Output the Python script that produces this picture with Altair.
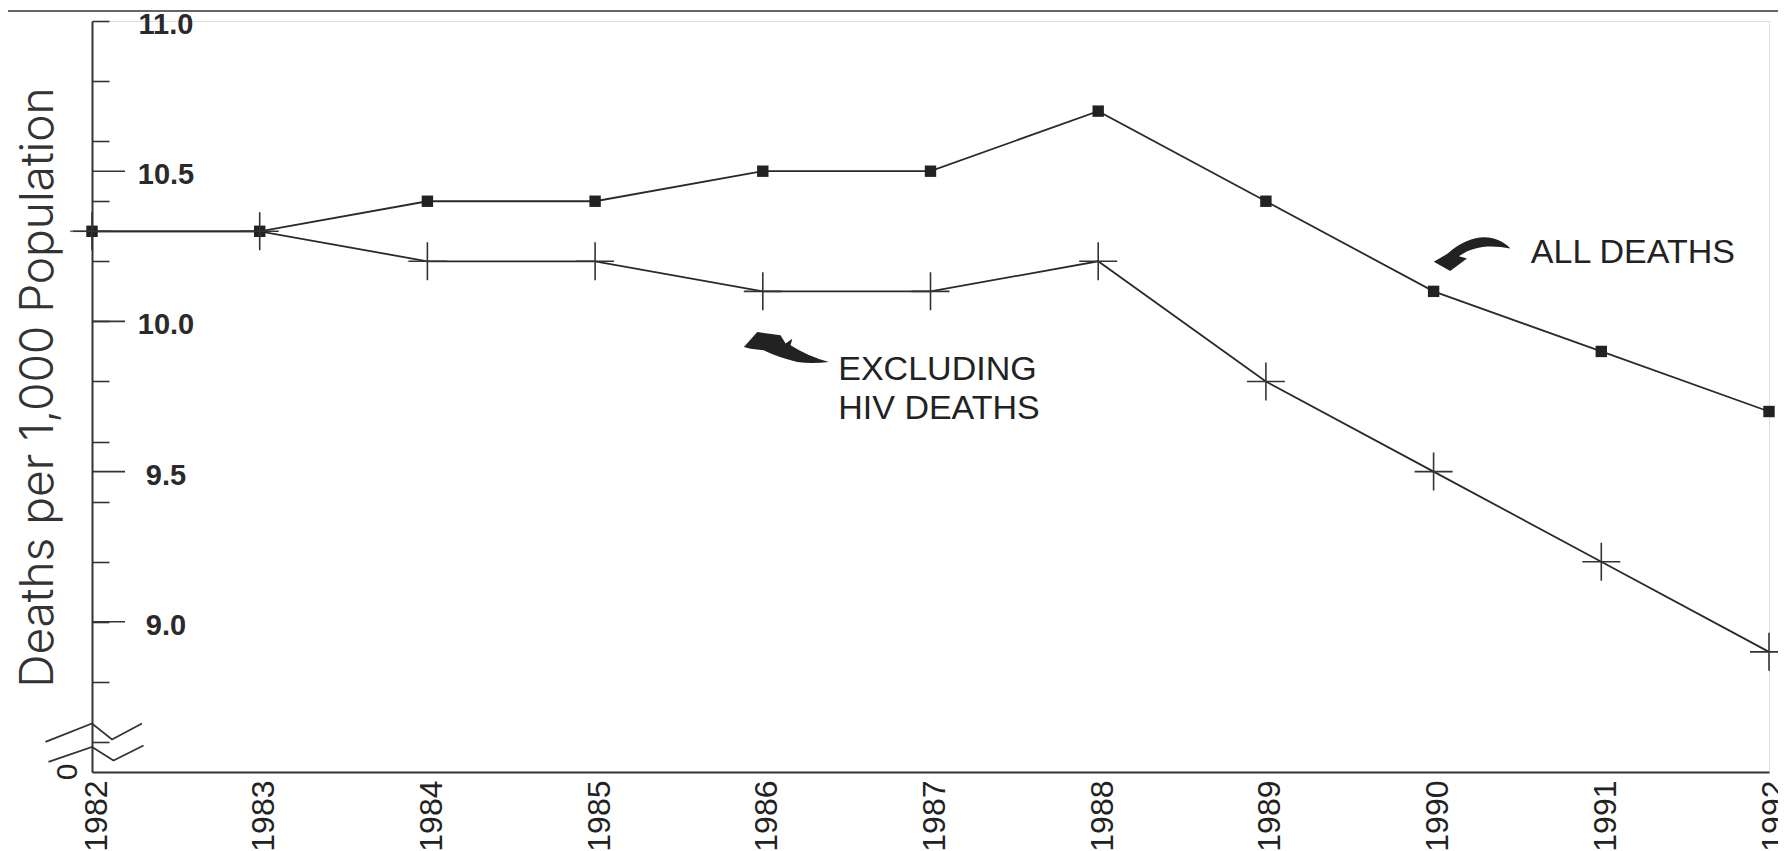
import altair as alt
import pandas as pd

# ---- data ----
years = [1982, 1983, 1984, 1985, 1986, 1987, 1988, 1989, 1990, 1991, 1992]
all_deaths = [10.3, 10.3, 10.4, 10.4, 10.5, 10.5, 10.7, 10.4, 10.1, 9.9, 9.7]
excl_hiv = [10.3, 10.3, 10.2, 10.2, 10.1, 10.1, 10.2, 9.8, 9.5, 9.2, 8.9]

y_minor_ticks = [8.6, 8.7, 8.8, 8.9, 9.0, 9.1, 9.2, 9.3, 9.4, 9.5, 9.6, 9.7, 9.8, 9.9,
                 10.0, 10.1, 10.2, 10.3, 10.4, 10.5, 10.6, 10.7, 10.8, 10.9, 11.0]
y_major_ticks = [9.0, 9.5, 10.0, 10.5]
y_labels = [9.0, 9.5, 10.0, 10.5, 11.0]
y_label_text = ["9.0", "9.5", "10.0", "10.5", "11.0"]
y_domain = [8.5, 11.0]          # bottom of the (broken) axis is labelled "0"
x_domain = [1982, 1992]

ann_text = ["ALL DEATHS", "EXCLUDING\nHIV DEATHS"]
ann_year = [1990.58, 1986.45]
ann_value = [10.227, 9.838]

arrow_name = ["all", "excl"]
arrow_year = [1990.23, 1986.14]
arrow_value = [10.225, 9.912]

break_year = [1982]
break_value = [8.6]

W, H = 1677, 751

# curved arrow outlines (symbol shapes, unit square)
ARROW_ALL = ("M 0.955 -0.135 C 0.6 -0.5 0.0 -0.55 -0.62 0.0 L -0.96 0.2 L -0.55 0.43 "
             "L -0.13 0.12 L -0.33 0.06 C 0.05 -0.22 0.5 -0.22 0.955 -0.135 Z")
ARROW_EXCL = ("M -0.986 -0.02 L -0.674 -0.367 L -0.133 -0.29 L -0.016 -0.098 L 0.14 -0.214 "
              "L 0.1 -0.058 Q 0.5 0.2 0.99 0.33 Q 0.6 0.38 0.256 0.33 Q -0.2 0.22 -0.528 0.058 "
              "L -0.83 0.02 Z")

df = pd.DataFrame({
    "year": years * 2,
    "value": all_deaths + excl_hiv,
    "series": ["ALL DEATHS"] * len(years) + ["EXCLUDING HIV DEATHS"] * len(years),
})
all_df = df[df.series == "ALL DEATHS"]
exc_df = df[df.series == "EXCLUDING HIV DEATHS"]

xs = alt.Scale(domain=x_domain, nice=False, zero=False)
ys = alt.Scale(domain=y_domain, nice=False, zero=False)

x_axis = alt.Axis(
    values=years, format="d", labelAngle=-90, ticks=False, grid=False,
    domainColor="#333", domainWidth=2, labelFont="Liberation Sans",
    labelFontSize=32, labelColor="#222", labelPadding=8, labelOffset=4, title=None,
    labelOverlap=False,
)
y_axis = alt.Axis(
    orient="right", offset=-W, values=y_minor_ticks, grid=False, labels=False,
    tickSize=17, tickColor="#333", tickWidth=1.6,
    domainColor="#333", domainWidth=2,
    title="Deaths per 1,000 Population", titleX=-54, titleY=366, titleAngle=270,
    titleAlign="center", titleBaseline="middle", titleFont="Inter",
    titleFontWeight=300, titleFontSize=46, titleColor="#333",
)

lines = alt.Chart(df).mark_line(color="#2a2a2a", strokeWidth=1.8).encode(
    x=alt.X("year:Q", scale=xs, axis=x_axis),
    y=alt.Y("value:Q", scale=ys, axis=y_axis),
    detail="series:N",
)

squares = alt.Chart(all_df).mark_point(
    shape="square", size=130, filled=True, color="#222", opacity=1
).encode(x=alt.X("year:Q", scale=xs), y=alt.Y("value:Q", scale=ys))

crosses = alt.Chart(exc_df).mark_point(
    shape="M -1 0 L 1 0 M 0 -1 L 0 1", size=1444, filled=False,
    color="#333", strokeWidth=1.6, opacity=1
).encode(x=alt.X("year:Q", scale=xs), y=alt.Y("value:Q", scale=ys))

start_tick = alt.Chart(all_df[all_df.year == years[0]]).mark_tick(
    orient="horizontal", size=22, thickness=1.6, color="#333", xOffset=-11
).encode(x=alt.X("year:Q", scale=xs), y=alt.Y("value:Q", scale=ys))

major_ticks = alt.Chart(pd.DataFrame({"v": y_major_ticks})).mark_rule(
    strokeWidth=1.6, color="#333"
).encode(x=alt.value(0), x2=alt.value(33), y=alt.Y("v:Q", scale=ys))

tick_labels = alt.Chart(pd.DataFrame({"v": y_labels, "t": y_label_text})).mark_text(
    font="Liberation Sans", fontSize=29, fontWeight="bold", color="#2a2a2a",
    align="center", baseline="middle", dy=4
).encode(x=alt.value(74), y=alt.Y("v:Q", scale=ys), text="t:N")

zero_label = alt.Chart(pd.DataFrame({"year": [years[0]], "v": [y_domain[0]], "t": ["0"]})).mark_text(
    font="Liberation Sans", fontSize=30, color="#222", angle=270, dy=-24,
    align="center", baseline="middle"
).encode(x=alt.X("year:Q", scale=xs), y=alt.Y("v:Q", scale=ys), text="t:N")

breaks = alt.Chart(pd.DataFrame({"year": break_year, "v": break_value})).mark_point(
    shape="M -0.93 0 L 0 -0.37 L 0.4 -0.05 L 1 -0.37 M -0.87 0.4 L 0 0.1 L 0.43 0.37 L 1.03 0.07",
    size=10000, filled=False, color="#333", strokeWidth=1.8, opacity=1
).encode(x=alt.X("year:Q", scale=xs), y=alt.Y("v:Q", scale=ys))

ann = alt.Chart(pd.DataFrame({"t": ann_text, "year": ann_year, "v": ann_value})).mark_text(
    font="Liberation Sans", fontSize=34, color="#222", align="left", baseline="middle",
    lineBreak="\n", lineHeight=39
).encode(x=alt.X("year:Q", scale=xs), y=alt.Y("v:Q", scale=ys), text="t:N")

arrow_df = pd.DataFrame({"name": arrow_name, "year": arrow_year, "v": arrow_value})
arrow_all = alt.Chart(arrow_df[arrow_df.name == "all"]).mark_point(
    shape=ARROW_ALL, size=6400, filled=True, color="#222", opacity=1, strokeWidth=0
).encode(x=alt.X("year:Q", scale=xs), y=alt.Y("v:Q", scale=ys))
arrow_excl = alt.Chart(arrow_df[arrow_df.name == "excl"]).mark_point(
    shape=ARROW_EXCL, size=7396, filled=True, color="#222", opacity=1, strokeWidth=0
).encode(x=alt.X("year:Q", scale=xs), y=alt.Y("v:Q", scale=ys))

border = alt.Chart(pd.DataFrame({"k": [0]})).mark_rule(color="#666", strokeWidth=2).encode(
    y=alt.value(-10), x=alt.value(-92), x2=alt.value(W + 20)
)

chart = alt.layer(
    lines, squares, crosses, start_tick, major_ticks, tick_labels, zero_label, breaks, ann,
    arrow_all, arrow_excl, border
).properties(
    width=W, height=H,
    autosize=alt.AutoSizeParams(type="none"),
    padding={"left": 84, "top": 13, "right": 9, "bottom": 80},
).configure_view(stroke=None).configure(background="white")

chart.save("out.html", embed_options={"renderer": "svg", "actions": False})
